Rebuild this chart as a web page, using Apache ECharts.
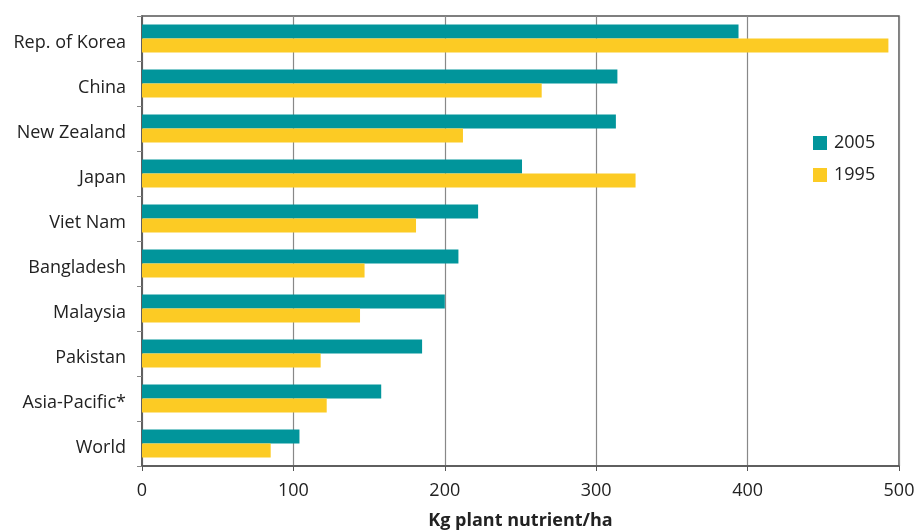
<!DOCTYPE html>
<html>
<head>
<meta charset="utf-8">
<script src="https://cdn.jsdelivr.net/npm/echarts@6/dist/echarts.min.js"></script>
<style>html,body{margin:0;padding:0;background:#fff;}#c{width:921px;height:531px;}</style>
</head>
<body>
<div id="c"></div>
<script>
const categories = ["Rep. of Korea","China","New Zealand","Japan","Viet Nam","Bangladesh","Malaysia","Pakistan","Asia-Pacific*","World"];
const values2005 = [394, 314, 313, 251, 222, 209, 200, 185, 158, 104];
const values1995 = [493, 264, 212, 326, 181, 147, 144, 118, 122, 85];
const seriesNames = ["2005","1995"];
const xTicks = [0,100,200,300,400,500];

const FONT = '"Open Sans", "Noto Sans", sans-serif';
const chart = echarts.init(document.getElementById('c'), null, {renderer:'canvas'});
chart.setOption({
  animation:false,
  backgroundColor:'#fff',
  textStyle:{fontFamily:FONT},
  grid:{left:142,right:22,top:16,bottom:65,show:true,borderColor:'#555',borderWidth:1.5,backgroundColor:'transparent',containLabel:false,outerBoundsMode:'none'},
  legend:{
    orient:'vertical', left:808, top:129,
    itemWidth:14, itemHeight:14, itemGap:14,
    icon:'rect',
    textStyle:{fontSize:18,color:'#222',fontFamily:FONT,padding:[0,0,0,2]},
    data:seriesNames
  },
  xAxis:{
    type:'value', min:xTicks[0], max:xTicks[xTicks.length-1], interval:100,
    axisLine:{show:true,lineStyle:{color:'#555',width:1.5}},
    axisTick:{show:true,length:5,lineStyle:{color:'#555'}},
    axisLabel:{fontSize:18,color:'#222',margin:16,fontFamily:FONT},
    splitLine:{show:true,lineStyle:{color:'#888',width:1.2}},
    name:'Kg plant nutrient/ha', nameLocation:'middle', nameGap:46,
    nameTextStyle:{fontSize:18,fontWeight:'bold',color:'#222',fontFamily:FONT}
  },
  yAxis:{
    type:'category', data:categories, inverse:true,
    axisLine:{show:true,lineStyle:{color:'#555',width:1.5}},
    axisTick:{show:true,length:5,lineStyle:{color:'#888'}},
    axisLabel:{
      margin:16,
      formatter:function(v){return '{a|'+v+'}';},
      rich:{a:{fontSize:18,color:'#222',fontFamily:FONT,padding:[9,0,0,0]}}
    }
  },
  series:[
    {name:seriesNames[0],type:'bar',data:values2005,itemStyle:{color:'#01959b'},barWidth:14,barGap:'0%',barCategoryGap:'38%'},
    {name:seriesNames[1],type:'bar',data:values1995,itemStyle:{color:'#fccb24'},barWidth:14,barGap:'0%',barCategoryGap:'38%'}
  ]
});
</script>
</body>
</html>
